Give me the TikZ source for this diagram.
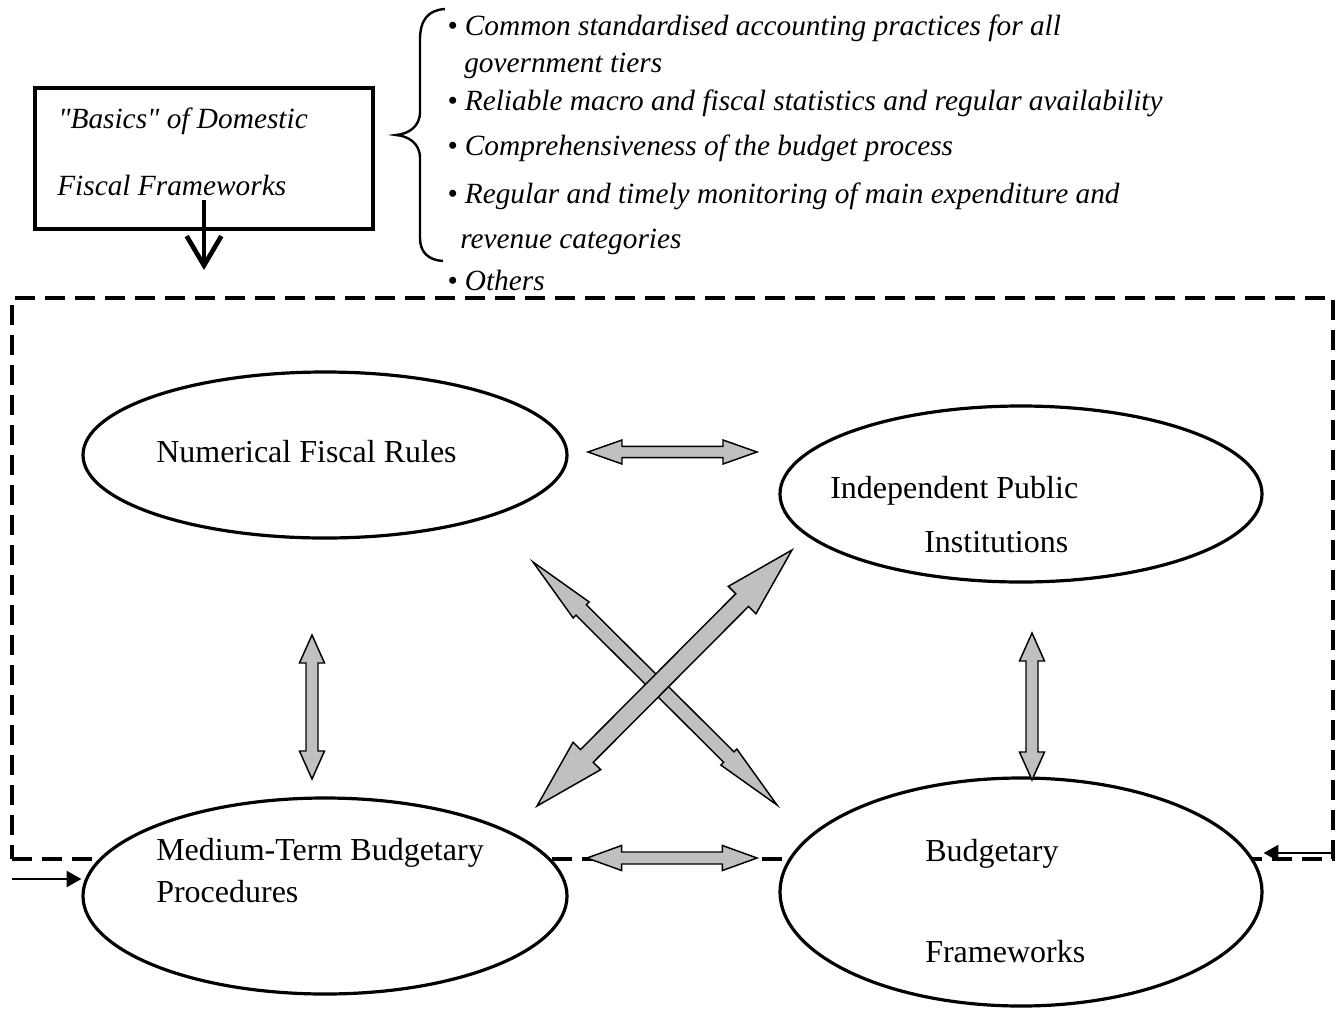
\documentclass[tikz,border=0pt]{standalone}
\usepackage{fontspec}
\setmainfont{Liberation Serif}[Ligatures=TeXOff]
\usetikzlibrary{shapes.geometric,arrows.meta,calc}
\definecolor{arrowgray}{RGB}{192,192,192}
\newcommand\fatdbl[5]{%
  \path ($(#1)!#5!(#2)$) coordinate (fa1) ($(#2)!#5!(#1)$) coordinate (fa2);
  \draw[fat] (#1)
    -- ($(fa1)!#4!90:(#2)$) -- ($(fa1)!#3!90:(#2)$)
    -- ($(fa2)!#3!-90:(#1)$) -- ($(fa2)!#4!-90:(#1)$)
    -- (#2)
    -- ($(fa2)!#4!90:(#1)$) -- ($(fa2)!#3!90:(#1)$)
    -- ($(fa1)!#3!-90:(#2)$) -- ($(fa1)!#4!-90:(#2)$)
    -- cycle;}
\begin{document}
\begin{tikzpicture}[x=0.75pt,y=-0.75pt,
  ell/.style={ellipse,draw,fill=white,line width=2.4pt,inner sep=0pt},
  up/.style={font=\fontsize{24pt}{28pt}\selectfont,anchor=base west,inner sep=0pt},
  itx/.style={font=\fontsize{22pt}{26pt}\selectfont\itshape,anchor=base west,inner sep=0pt},
  fat/.style={draw=black,fill=arrowgray,line width=1.1pt,line join=miter},
  frame/.style={draw,dash pattern=on 15pt off 7.5pt,line width=3pt,inner sep=0pt},
  thinarrow/.style={line width=1.5pt,-{Triangle[length=11pt,width=12pt]}}]
\useasboundingbox (0,0) rectangle (1343,1008);

% dashed frame
\node[frame,minimum width=990.75pt,minimum height=420.75pt] (frame) at (672.5,578.5) {};

% top-left box
\node[draw,line width=3pt,minimum width=253.5pt,minimum height=105.75pt,inner sep=0pt] (basics) at (204,158.5) {};
\node[itx] (b1) at (58,128) {"Basics" of Domestic};
\node[itx] (b2) at (57,195) {Fiscal Frameworks};
\coordinate (dstart) at (204,200);
\coordinate (dend) at (204,270);
\draw[line width=3.5pt,-{Straight Barb[length=22pt,width=26pt]}] (dstart) -- (dend);

% brace
\draw[line width=1.8pt] (445,9) .. controls (428,10) and (420,20) .. (420,40) -- (420,112)
  .. controls (420,127) and (408,134) .. (396,135)
  .. controls (408,136) and (420,143) .. (420,158) -- (420,238)
  .. controls (420,252) and (428,260) .. (443,261);

% bullet list
\node[itx] (l1) at (447,35) {• Common standardised accounting practices for all};
\node[itx] (l2) at (464,72) {government tiers};
\node[itx] (l3) at (447,110) {• Reliable macro and fiscal statistics and regular availability};
\node[itx] (l4) at (447,155) {• Comprehensiveness of the budget process};
\node[itx] (l5) at (447,203) {• Regular and timely monitoring of main expenditure and};
\node[itx] (l6) at (460,248) {revenue categories};
\node[itx] (l7) at (447,290) {• Others};

% ellipses
\node[ell,minimum width=363pt,minimum height=124.5pt] (nfr) at (325,455) {};
\node[ell,minimum width=361.5pt,minimum height=132pt] (ipi) at (1021,494) {};
\node[ell,minimum width=363pt,minimum height=147pt] (mtbp) at (325,896) {};
\node[ell,minimum width=361.5pt,minimum height=171pt] (bf) at (1021,892) {};

\node[up] (t1) at (156,462) {Numerical Fiscal Rules};
\node[up] (t2a) at (830,498) {Independent Public};
\node[up] (t2b) at (924,552) {Institutions};
\node[up] (t3a) at (156,860) {Medium-Term Budgetary};
\node[up] (t3b) at (156,902) {Procedures};
\node[up] (t4a) at (925,861) {Budgetary};
\node[up] (t4b) at (925,962) {Frameworks};

% input arrows
\coordinate (lin) at (12,879);
\draw[thinarrow] (lin) -- (lin -| mtbp.west);
\coordinate (rin) at (1333,853);
\draw[thinarrow] (rin) -- (rin -| bf.east);

% fat double arrows
\coordinate (h1a) at (588,452); \coordinate (h1b) at (757,452);
\fatdbl{h1a}{h1b}{4.2pt}{9pt}{25.5pt}
\coordinate (h2a) at (587,858); \coordinate (h2b) at (757,858);
\fatdbl{h2a}{h2b}{4.5pt}{9.4pt}{26pt}
\coordinate (v1a) at (312,635); \coordinate (v1b) at (312,779);
\fatdbl{v1a}{v1b}{4.5pt}{9.4pt}{21pt}
\coordinate (v2a) at (1032,633); \coordinate (v2b) at (1032,780);
\fatdbl{v2a}{v2b}{4.5pt}{9.4pt}{21pt}
\coordinate (dAa) at (533,562); \coordinate (dAb) at (777,805);
\fatdbl{dAa}{dAb}{5.5pt}{8.5pt}{51pt}
\coordinate (dBa) at (537,806); \coordinate (dBb) at (792,550);
\fatdbl{dBa}{dBb}{6.75pt}{14.6pt}{53pt}
\end{tikzpicture}
\end{document}
